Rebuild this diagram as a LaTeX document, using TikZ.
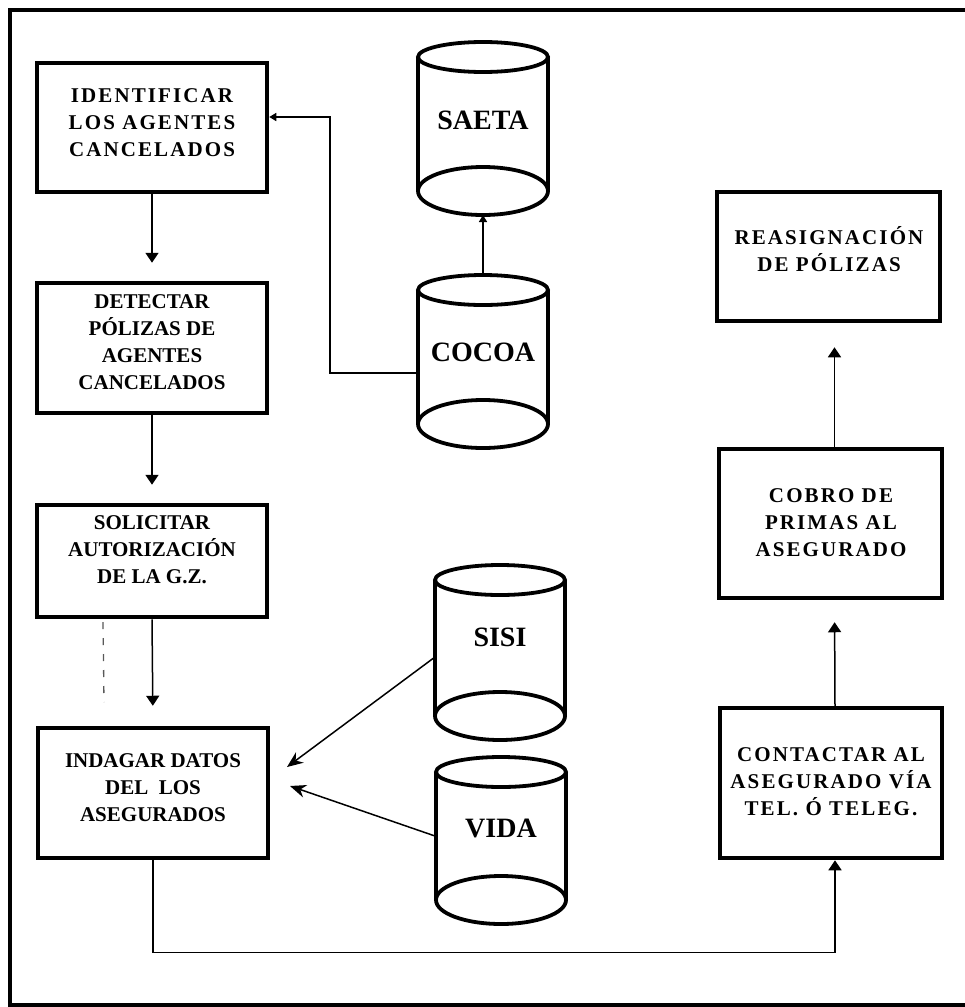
\documentclass[tikz,border=0pt]{standalone}
\usepackage{fontspec}
\setmainfont{Liberation Serif}
\newfontfamily\widefont[LetterSpace=10]{Liberation Serif}
\usetikzlibrary{arrows.meta}

% database drum: name, centre x, top-ellipse y, bottom-ellipse y, label y, label
\newcommand{\drum}[6]{%
  \draw[drumline] (#2-65,#3) -- (#2-65,#4) (#2+65,#3) -- (#2+65,#4);
  \draw[drumline] (#2,#3) ellipse [x radius=65, y radius=15];
  \draw[drumline] (#2,#4) ellipse [x radius=65, y radius=24];
  \node[drumtext] (#1) at (#2,#5) {#6};
  \coordinate (#1-top) at (#2,#3-15);
  \coordinate (#1-bottom) at (#2,#4+24);
}

\begin{document}
\begin{tikzpicture}[x=1pt,y=-1pt,
  procbox/.style={draw, line width=4.5pt, inner sep=0pt},
  proctext/.style={align=center, inner sep=0pt, font=\bfseries\fontsize{21}{27}\selectfont},
  widetext/.style={align=center, inner sep=0pt, font=\widefont\bfseries\fontsize{21}{27}\selectfont},
  drumline/.style={line width=3.8pt},
  drumtext/.style={inner sep=0pt, font=\bfseries\fontsize{28}{30}\selectfont},
  conn/.style={line width=1.5pt},
  bigtip/.style={-{Triangle[width=13pt,length=10pt]}},
  smalltip/.style={-{Triangle[width=8pt,length=7pt]}},
  slanttip/.style={-{Stealth[width=13pt,length=16pt]}}
]
\clip (0,0) rectangle (965,1007);
\fill[white] (0,0) rectangle (965,1007);

% outer frame (right side runs off the sheet)
\draw[line width=4pt] (10,10) rectangle (975,1005);

% process boxes, left column
\node[procbox, minimum width=230pt, minimum height=129pt] (b1) at (152,127.5) {};
\node[widetext] (b1t) at (152,123) {IDENTIFICAR\\LOS AGENTES\\CANCELADOS};
\node[procbox, minimum width=230pt, minimum height=130pt] (b2) at (152,348) {};
\node[proctext] (b2t) at (152,342) {DETECTAR\\PÓLIZAS DE\\AGENTES\\CANCELADOS};
\node[procbox, minimum width=230pt, minimum height=112pt] (b3) at (152,561) {};
\node[proctext] (b3t) at (152,550) {SOLICITAR\\AUTORIZACIÓN\\DE LA G.Z.};
\node[procbox, minimum width=230pt, minimum height=130pt] (b4) at (153,793) {};
\node[proctext] (b4t) at (153,788) {INDAGAR DATOS\\DEL\ \ LOS\\ASEGURADOS};

% process boxes, right column
\node[procbox, minimum width=223pt, minimum height=129pt] (rea) at (828.5,256.5) {};
\node[widetext] (reat) at (829,249) {REASIGNACIÓN\\DE PÓLIZAS};
\node[procbox, minimum width=223pt, minimum height=149pt] (cob) at (830.5,523.5) {};
\node[widetext] (cobt) at (831,523) {COBRO DE\\PRIMAS AL\\ASEGURADO};
\node[procbox, minimum width=222pt, minimum height=150pt] (ctc) at (831,783) {};
\node[widetext] (ctct) at (831,782) {CONTACTAR AL\\ASEGURADO VÍA\\TEL. Ó TELEG.};

% databases
\drum{saeta}{483}{57}{191}{120}{SAETA}
\drum{cocoa}{483}{290}{424}{352}{COCOA}
\drum{sisi}{500}{580}{716}{637}{SISI}
\drum{vida}{501}{772}{900}{828}{VIDA}

% connector end points
\coordinate (cocoaL) at (418,373);
\coordinate (elbow) at (330,117);
\coordinate (sisiL) at (435,657);
\coordinate (tipA) at (287,767);
\coordinate (vidaL) at (435,836);
\coordinate (tipB) at (290,786);

% flow connectors
\draw[conn, bigtip, shorten >=18pt] (b1.south) -- (b2.north);
\draw[conn, bigtip, shorten >=18pt] (b2.south) -- (b3.north);
\draw[conn, bigtip, shorten >=20pt] (b3.south) -- (b4.north);
\draw[conn, bigtip] (b4.south) -- ++(0,92) -| ([xshift=4pt]ctc.south);
\draw[conn, bigtip, shorten >=22pt] ([xshift=4pt]ctc.north) -- ([xshift=4pt]cob.south);
\draw[conn, bigtip, shorten >=24pt] ([xshift=4pt]cob.north) -- ([xshift=6pt]rea.south);
\draw[conn, smalltip] (cocoa-top) -- (saeta-bottom);
\draw[conn, smalltip] (cocoaL) -| (elbow) -- (elbow -| b1.east);
\draw[conn, slanttip] (sisiL) -- (tipA);
\draw[conn, slanttip] (vidaL) -- (tipB);

% faint broken stroke beside the third arrow
\draw[black!65, line width=1.3pt, dash pattern=on 7pt off 9pt] (103,622) -- (104,702);
\end{tikzpicture}
\end{document}
